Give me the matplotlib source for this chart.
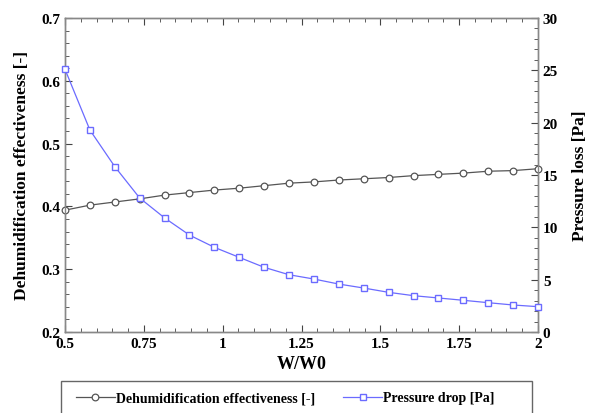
import numpy as np
import matplotlib
matplotlib.use("Agg")
from matplotlib import pyplot as plt
from matplotlib.patches import Rectangle
from matplotlib.ticker import MultipleLocator, FormatStrFormatter

ratio = np.linspace(0.5, 2.0, 20)
effectiveness = [0.394, 0.402, 0.407, 0.412, 0.418, 0.422, 0.426, 0.429, 0.433, 0.437,
                 0.439, 0.442, 0.444, 0.446, 0.449, 0.451, 0.453, 0.456, 0.457, 0.460]
pressure = [25.1, 19.3, 15.8, 12.8, 10.9, 9.26, 8.09, 7.13, 6.18, 5.47,
            5.06, 4.58, 4.20, 3.79, 3.47, 3.25, 3.03, 2.80, 2.58, 2.42]
x_ticks = [0.5, 0.75, 1, 1.25, 1.5, 1.75, 2]
x_labels = ['0.5', '0.75', '1', '1.25', '1.5', '1.75', '2']

plt.rcParams['font.family'] = ['Liberation Serif', 'DejaVu Serif']
plt.rcParams['font.weight'] = 'bold'

fig = plt.figure(figsize=(5.9, 4.14), dpi=100)
ax = fig.add_axes([65 / 590, 1 - 333 / 414, 473 / 590, 314 / 414])
ax2 = ax.twinx()

gray = '#555555'
blue = '#6b6bff'
l1, = ax.plot(ratio, effectiveness, color=gray, lw=0.9, marker='o', ms=4.8,
              mfc='white', mec=gray, mew=0.9, clip_on=False, zorder=3)
l2, = ax2.plot(ratio, pressure, color=blue, lw=0.9, marker='s', ms=4.6,
               mfc='white', mec=blue, mew=1.0, clip_on=False, zorder=3)

ax.set_xlim(0.5, 2)
ax.set_ylim(0.2, 0.7)
ax2.set_ylim(0, 30)
ax.set_xticks(x_ticks)
ax.set_xticklabels(x_labels)
ax.xaxis.set_minor_locator(MultipleLocator(0.05))
ax.yaxis.set_major_locator(MultipleLocator(0.1))
ax.yaxis.set_minor_locator(MultipleLocator(0.02))
ax.yaxis.set_major_formatter(FormatStrFormatter('%.1f'))
ax2.yaxis.set_major_locator(MultipleLocator(5))
ax2.yaxis.set_minor_locator(MultipleLocator(1))

for a in (ax, ax2):
    for s in a.spines.values():
        s.set_color('#888888')
        s.set_linewidth(1.0)
ax.tick_params(which='both', direction='in', top=True, labelsize=11, colors='#444444',
               labelcolor='black')
ax.tick_params(which='major', length=5)
ax.tick_params(which='minor', length=3)
ax.tick_params(axis='y', right=False, which='both')
ax2.tick_params(which='both', direction='in', labelsize=11, colors='#444444',
                labelcolor='black')
ax2.tick_params(which='major', length=5)
ax2.tick_params(which='minor', length=3)

ax.set_xlabel('W/W0', fontsize=13, fontweight='bold', labelpad=4)
ax.set_ylabel('Dehumidification effectiveness [-]', fontsize=12.5, fontweight='bold', labelpad=8)
ax2.set_ylabel('Pressure loss [Pa]', fontsize=12.5, fontweight='bold', labelpad=10)

# legend box runs past the bottom edge in the original, so draw the frame by hand
fig.patches.append(Rectangle((61 / 590, -0.05), (532 - 61) / 590, 0.05 + 32 / 414,
                             transform=fig.transFigure, fill=False,
                             edgecolor='#666666', lw=1.0))
fig.legend([l1, l2], ['Dehumidification effectiveness [-]', 'Pressure drop [Pa]'],
           loc='center left', bbox_to_anchor=(76 / 590, 1 - 399 / 414), ncol=2,
           frameon=False, handlelength=2.8, handletextpad=0.1, columnspacing=2.0,
           borderpad=0, borderaxespad=0, prop={'weight': 'bold', 'size': 10})

fig.savefig('out.png', dpi=100)
